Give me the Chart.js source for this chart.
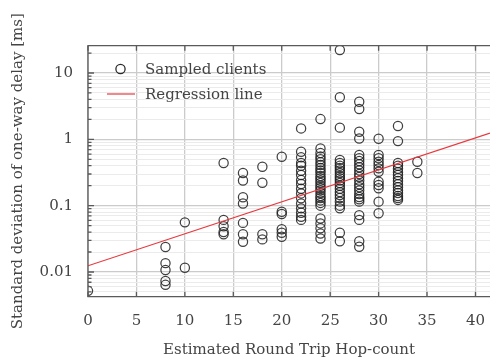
<!DOCTYPE html>
<html><head><meta charset="utf-8">
<script src="https://cdn.jsdelivr.net/npm/chart.js@4/dist/chart.umd.min.js"></script>
<style>html,body{margin:0;padding:0;background:#fff;overflow:hidden}</style>
</head><body>
<canvas id="c" width="490" height="357"></canvas>
<script>
// ---- data ----
const hopCounts = [0, 8, 10, 14, 16, 18, 20, 22, 24, 26, 28, 30, 32, 34];
const sdHop0  = [0.0052];
const sdHop8  = [0.0238, 0.0136, 0.0107, 0.0073, 0.0064];
const sdHop10 = [0.056, 0.0116];
const sdHop14 = [0.44, 0.061, 0.049, 0.040, 0.037];
const sdHop16 = [0.31, 0.24, 0.134, 0.108, 0.055, 0.037, 0.0286];
const sdHop18 = [0.386, 0.222, 0.037, 0.031];
const sdHop20 = [0.547, 0.081, 0.075, 0.044, 0.039, 0.034];
const sdHop22 = [1.46, 0.65, 0.535, 0.44, 0.40, 0.336, 0.29, 0.243, 0.212, 0.18, 0.153, 0.129, 0.108, 0.091, 0.078, 0.068, 0.061];
const sdHop24 = [2.02, 0.73, 0.62, 0.55, 0.5, 0.45, 0.41, 0.37, 0.34, 0.31, 0.28, 0.26, 0.24, 0.22, 0.2, 0.185, 0.17, 0.155, 0.14, 0.13, 0.12, 0.11, 0.1, 0.064, 0.054, 0.0455, 0.038, 0.032];
const sdHop26 = [22.2, 4.3, 1.5, 0.49, 0.44, 0.4, 0.37, 0.34, 0.31, 0.28, 0.26, 0.24, 0.22, 0.2, 0.18, 0.16, 0.145, 0.13, 0.115, 0.1, 0.091, 0.039, 0.029];
const sdHop28 = [3.69, 2.86, 1.3, 1.03, 0.58, 0.52, 0.47, 0.42, 0.38, 0.34, 0.3, 0.27, 0.24, 0.21, 0.19, 0.17, 0.15, 0.135, 0.125, 0.115, 0.072, 0.061, 0.029, 0.024];
const sdHop30 = [1.02, 0.58, 0.52, 0.46, 0.41, 0.365, 0.325, 0.23, 0.205, 0.183, 0.115, 0.077];
const sdHop32 = [1.59, 0.94, 0.44, 0.4, 0.36, 0.32, 0.29, 0.26, 0.235, 0.21, 0.19, 0.17, 0.155, 0.14, 0.13, 0.122];
const sdHop34 = [0.46, 0.31];
const sdColumns = [sdHop0, sdHop8, sdHop10, sdHop14, sdHop16, sdHop18, sdHop20, sdHop22, sdHop24, sdHop26, sdHop28, sdHop30, sdHop32, sdHop34];

const regressionX = [0, 41.5];
const regressionY = [0.0124, 1.24];

const xTickValues = [0, 5, 10, 15, 20, 25, 30, 35, 40];
const yTickLabels = ['0.01', '0.1', '1', '10'];
const yDecades = [0.001, 0.01, 0.1, 1, 10];

const seriesNames = ['Sampled clients', 'Regression line'];
const xTitle = 'Estimated Round Trip Hop-count';
const yTitle = 'Standard deviation of one-way delay [ms]';

// ---- build library structures ----
const scatterPoints = [];
hopCounts.forEach((h, i) => sdColumns[i].forEach(v => scatterPoints.push({x: h, y: v})));
const regressionPoints = regressionX.map((x, i) => ({x, y: regressionY[i]}));

const yMin = 0.00424, yMax = 25.8;
const yGridValues = [];
yDecades.forEach(d => { for (let m = 1; m <= 9; m++) { const v = +(d * m).toPrecision(3); if (v >= yMin && v <= yMax) yGridValues.push(v); } });
const isDecade = v => yTickLabels.some(l => Math.abs(parseFloat(l) - v) < 1e-9) || Math.abs(v - 0.001) < 1e-9;

const FONT = "'DejaVu Serif', serif";
const TXT = '#444444';
const AXIS = '#5a5a5a';

const framePlugin = {
  id: 'frame',
  afterDraw(chart) {
    const {ctx, chartArea: a, scales: {x, y}} = chart;
    ctx.save();
    ctx.strokeStyle = AXIS; ctx.lineWidth = 1.3;
    // tick marks
    ctx.beginPath();
    xTickValues.forEach(v => { const px = x.getPixelForValue(v);
      ctx.moveTo(px, a.bottom); ctx.lineTo(px, a.bottom - 5);
      ctx.moveTo(px, a.top); ctx.lineTo(px, a.top + 5); });
    yGridValues.forEach(v => { const py = y.getPixelForValue(v);
      const len = isDecade(v) ? 6 : 3.5;
      ctx.moveTo(a.left, py); ctx.lineTo(a.left + len, py); });
    ctx.stroke();
    ctx.beginPath();
    ctx.moveTo(a.right + 2, a.top); ctx.lineTo(a.left, a.top); ctx.lineTo(a.left, a.bottom); ctx.lineTo(a.right + 2, a.bottom);
    ctx.stroke();
    // legend
    ctx.font = '15px ' + FONT; ctx.fillStyle = TXT; ctx.textBaseline = 'middle'; ctx.textAlign = 'left';
    ctx.strokeStyle = '#2a2a2a'; ctx.lineWidth = 1.3;
    ctx.beginPath(); ctx.arc(120.5, 69, 4.6, 0, Math.PI * 2); ctx.stroke();
    ctx.fillText(seriesNames[0], 145, 70);
    ctx.strokeStyle = '#e8383d'; ctx.lineWidth = 1.2;
    ctx.beginPath(); ctx.moveTo(107, 94); ctx.lineTo(135, 94); ctx.stroke();
    ctx.fillText(seriesNames[1], 145, 95);
    ctx.restore();
  }
};

new Chart(document.getElementById('c'), {
  type: 'scatter',
  data: {
    datasets: [
      { label: seriesNames[1], type: 'line', data: regressionPoints, borderColor: '#e8383d', borderWidth: 1.2,
        pointRadius: 0, fill: false, order: 0, tension: 0 },
      { label: seriesNames[0], data: scatterPoints, pointStyle: 'circle', pointRadius: 4.6,
        borderColor: 'rgba(30,30,30,0.85)', backgroundColor: 'rgba(0,0,0,0)', borderWidth: 1.25, order: 1 }
    ]
  },
  options: {
    responsive: false, animation: false, devicePixelRatio: 1,
    layout: { autoPadding: false, padding: { top: 45.7, right: 0, left: 0, bottom: 0 } },
    plugins: { legend: { display: false }, tooltip: { enabled: false } },
    scales: {
      x: {
        type: 'linear', position: 'bottom', min: 0, max: 41.5,
        afterFit: s => { s.height = 60.3; s.paddingLeft = 0; s.paddingRight = 0; },
        border: { display: false },
        grid: { color: '#cbcbcb', lineWidth: 1.3, drawTicks: false },
        ticks: { stepSize: 5, includeBounds: false, padding: 15, color: TXT, font: { family: FONT, size: 15 } },
        title: { display: true, text: xTitle, color: TXT, font: { family: FONT, size: 15 }, padding: { top: 0, bottom: -2 } }
      },
      y: {
        type: 'logarithmic', position: 'left', min: yMin, max: yMax,
        afterFit: s => { s.width = 88; s.paddingTop = 0; s.paddingBottom = 0; },
        afterBuildTicks: s => { s.ticks = yGridValues.map(v => ({ value: v, major: isDecade(v) })); },
        border: { display: false },
        grid: { drawTicks: false,
          color: c => (c.tick && isDecade(c.tick.value)) ? '#cbcbcb' : '#ebebeb',
          lineWidth: c => (c.tick && isDecade(c.tick.value)) ? 1.3 : 1 },
        ticks: { autoSkip: false, padding: 15, color: TXT, font: { family: FONT, size: 15 },
          callback: v => { const l = yTickLabels.find(t => Math.abs(parseFloat(t) - v) < 1e-9); return l || ''; } },
        title: { display: true, text: yTitle, color: TXT, font: { family: FONT, size: 15 }, padding: { top: 9, bottom: 0 } }
      }
    }
  },
  plugins: [framePlugin]
});
</script>
</body></html>
